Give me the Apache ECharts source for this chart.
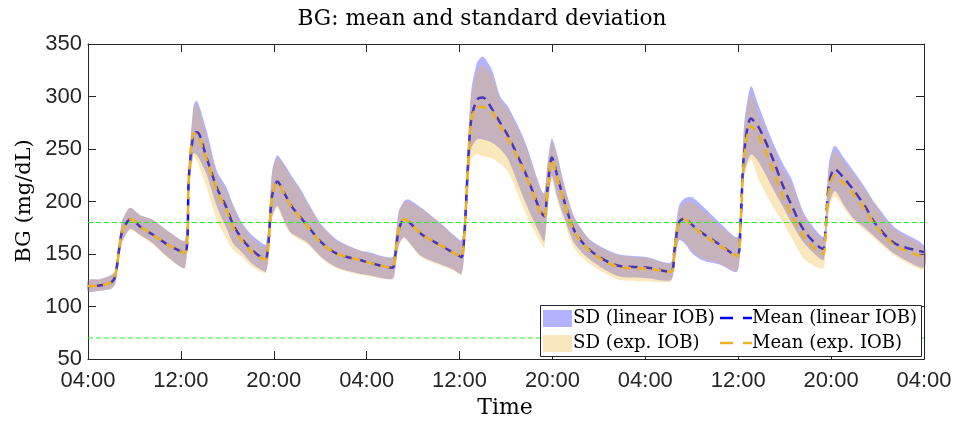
<!DOCTYPE html>
<html>
<head>
<meta charset="utf-8">
<script src="https://cdn.jsdelivr.net/npm/echarts@6/dist/echarts.min.js"></script>
<style>html,body{margin:0;padding:0;background:#fff;}#c{width:955px;height:421px;}</style>
</head>
<body>
<div id="c"></div>
<script>
// hours after 04:00 on day 1
var hours = [0,1,2,2.35,2.9,3.4,3.7,4.5,5.5,7.0,8.35,8.7,9.1,9.4,10.2,11.1,11.9,12.5,13.3,14.1,14.9,15.3,15.55,15.85,16.3,17.0,17.5,18.3,18.9,20.1,21.5,23.5,24.1,26.2,26.45,26.75,27.2,27.6,28.7,30.4,31.5,32.15,32.4,32.7,33.0,33.5,34.0,34.8,35.5,36.2,37.6,39.0,39.3,39.6,39.95,40.4,41.0,41.9,43.3,45.6,48.2,50.2,50.5,50.9,51.4,52.0,52.9,54.4,55.9,56.2,56.5,57.1,57.8,59.0,59.85,60.57,61.7,63.3,63.5,63.8,64.3,65.2,66.0,67.0,67.8,69.5,72];
var meanLinear = [119.5,120,123,129,170,181,183,176,169,158,151,225,265,266,242,213,195,178,164,154,147,146,162,205,219,206,196,185,177,161,150,144,142,137,148,172,183,181,169,158,151,147,166,229,277,297,299,288,275,262,229,190,186,215,242,225,201,172,153,139,137,133,153,180,184,178,170,159,148,180,245,279,270,240,215,197,172,155,170,215,231,221,210,194,179,160,152];
var meanExp = [119.5,120,123,129,170,181,183,176,169,158,151,225,265,264,240,210,192,175,162,152,146,145,161,204,218,205,195,184,176,160,150,144,142,137,148,172,183,181,169,158,151,147,166,228,275,290,290,285,271,259,227,188,185,214,240,223,200,171,152,138,136,133,153,180,183,177,169,158,148,179,240,272,262,230,205,188,166,150,166,210,225,216,206,191,177,158,147];
var sdUpperLinear = [125,126,130,134,180,192,194,187,183,171,163,237,292,296,268,229,214,197,179,168,161,159,178,228,244,234,225,212,200,178,163,153,152,147,162,190,200,202,194,179,168,163,180,250,305,332,338,325,300,290,258,212,208,238,260,245,217,185,163,150,147,142,165,196,203,204,196,180,166,190,272,310,290,256,236,222,188,166,180,235,253,240,228,212,198,175,158];
var sdLowerLinear = [114,115,117,122,160,171,174,168,161,146,137,212,246,244,226,195,175,160,151,141,135,133,146,185,196,179,170,165,161,147,137,131,130,126,134,158,166,162,148,140,135,131,150,210,250,259,259,256,250,240,201,167,162,195,224,205,185,160,144,129,127,125,140,163,160,151,144,140,133,165,225,245,237,212,195,180,160,144,155,195,210,195,183,174,166,150,137];
var sdUpperExp = [125,126,130,134,180,192,194,187,183,171,163,236,290,292,263,225,210,194,177,165,158,156,176,226,242,232,223,210,198,177,162,153,151,146,161,189,199,200,193,178,167,162,179,247,300,324,330,320,297,287,255,210,206,236,257,243,216,184,162,149,146,141,163,193,199,199,192,177,165,189,266,302,281,250,230,216,185,163,177,230,248,236,225,210,196,173,156];
var sdLowerExp = [114,115,117,122,160,171,173,167,160,145,137,210,243,238,214,182,165,154,147,138,133,132,145,183,194,177,169,163,159,146,136,130,129,126,134,158,165,161,147,139,134,130,149,205,240,245,243,241,236,228,191,160,156,192,220,201,181,155,140,126,124,124,140,164,162,153,146,141,134,164,222,240,220,195,180,166,145,136,150,190,205,192,181,172,164,148,135];
var thresholds = [180, 70];
var tickLabels = ['04:00','12:00','20:00','04:00','12:00','20:00','04:00','12:00','20:00','04:00'];

function pairs(arr){ return hours.map(function(h,i){ return [h, arr[i]]; }); }

var blue = '#0000ff', orange = '#edb120';
var bandBlue = 'rgba(0,0,255,0.3)', bandOrange = 'rgba(237,177,32,0.3)';
var axisColor = '#262626';
var SM = 0.3;
var SERIF = '"DejaVu Serif"';

// band drawn as one filled polygon through the axis scales
function bandSeries(upper, lower, color, z){
  return {
    type:'custom', silent:true, z:z,
    data:[[0, upper[0], lower[0]]],
    encode:{x:0, y:[1,2]},
    renderItem:function(params, api){
      var pts = [];
      for (var i = 0; i < hours.length; i++) pts.push(api.coord([hours[i], upper[i]]));
      for (var j = hours.length - 1; j >= 0; j--) pts.push(api.coord([hours[j], lower[j]]));
      return {type:'polygon', shape:{points:pts, smooth:0.25}, style:{fill:color, stroke:null}};
    }
  };
}

var chart = echarts.init(document.getElementById('c'), null, {renderer:'canvas'});
var series = [
  {type:'line', z:1, data:pairs(meanLinear), symbol:'none', smooth:SM, lineStyle:{color:blue, width:2.5, type:[9,6], dashOffset:7}},
  bandSeries(sdUpperLinear, sdLowerLinear, bandBlue, 2),
  bandSeries(sdUpperExp, sdLowerExp, bandOrange, 3),
  {type:'line', z:4, data:pairs(meanExp), symbol:'none', smooth:SM, lineStyle:{color:orange, width:2.5, type:[9,6]}}
];
thresholds.forEach(function(t){
  series.push({type:'line', z:5, data:[[0,t],[72,t]], symbol:'none', lineStyle:{color:'#22ee22', width:1, type:[5,3]}});
});

var tickCommon = {show:true, inside:true, length:8, lineStyle:{color:axisColor, width:1}};
chart.setOption({
  animation:false,
  grid:{left:88, right:31, top:44, bottom:62, containLabel:false},
  xAxis:[
    {type:'value', min:0, max:72, interval:8, position:'bottom',
     axisLine:{onZero:false, lineStyle:{color:axisColor, width:1}},
     axisTick:tickCommon, splitLine:{show:false},
     axisLabel:{formatter:function(v){return tickLabels[Math.round(v/8)];}, color:axisColor, fontFamily:'Liberation Sans', fontSize:22, margin:11}},
    {type:'value', min:0, max:72, interval:8, position:'top',
     axisLine:{onZero:false, lineStyle:{color:axisColor, width:1}},
     axisTick:tickCommon, splitLine:{show:false}, axisLabel:{show:false}}
  ],
  yAxis:[
    {type:'value', min:50, max:350, interval:50, position:'left',
     axisLine:{show:true, onZero:false, lineStyle:{color:axisColor, width:1}},
     axisTick:tickCommon, splitLine:{show:false},
     axisLabel:{color:axisColor, fontFamily:'Liberation Sans', fontSize:22, margin:6}},
    {type:'value', min:50, max:350, interval:50, position:'right',
     axisLine:{show:true, onZero:false, lineStyle:{color:axisColor, width:1}},
     axisTick:tickCommon, splitLine:{show:false}, axisLabel:{show:false}}
  ],
  series:series,
  graphic:[
    {type:'text', x:482, y:19, style:{text:'BG: mean and standard deviation', font:'21.7px ' + SERIF, fill:'#000', textAlign:'center', textVerticalAlign:'middle'}},
    {type:'text', x:505, y:408, style:{text:'Time', font:'22px ' + SERIF, fill:'#000', textAlign:'center', textVerticalAlign:'middle'}},
    {type:'text', x:25, y:201, rotation:Math.PI/2, style:{text:'BG (mg/dL)', font:'21px ' + SERIF, fill:'#000', textAlign:'center', textVerticalAlign:'middle'}},
    {type:'rect', shape:{x:540.5, y:305.5, width:381, height:51}, style:{fill:'#fff', stroke:axisColor, lineWidth:1}, z:100},
    {type:'rect', shape:{x:543, y:310, width:29, height:17}, style:{fill:bandBlue}, z:101},
    {type:'rect', shape:{x:543, y:335, width:29, height:17}, style:{fill:bandOrange}, z:101},
    {type:'text', x:573, y:318, style:{text:'SD (linear IOB)', font:'18.2px ' + SERIF, fill:'#000', textAlign:'left', textVerticalAlign:'middle'}, z:101},
    {type:'text', x:573, y:343, style:{text:'SD (exp. IOB)', font:'18.2px ' + SERIF, fill:'#000', textAlign:'left', textVerticalAlign:'middle'}, z:101},
    {type:'line', shape:{x1:720, y1:318, x2:752, y2:318}, style:{stroke:blue, lineWidth:2.5, lineDash:[13,10]}, z:101},
    {type:'line', shape:{x1:720, y1:343, x2:752, y2:343}, style:{stroke:orange, lineWidth:2.5, lineDash:[13,10]}, z:101},
    {type:'text', x:752, y:318, style:{text:'Mean (linear IOB)', font:'18px ' + SERIF, fill:'#000', textAlign:'left', textVerticalAlign:'middle'}, z:101},
    {type:'text', x:752, y:343, style:{text:'Mean (exp. IOB)', font:'18px ' + SERIF, fill:'#000', textAlign:'left', textVerticalAlign:'middle'}, z:101}
  ]
});
</script>
</body>
</html>
